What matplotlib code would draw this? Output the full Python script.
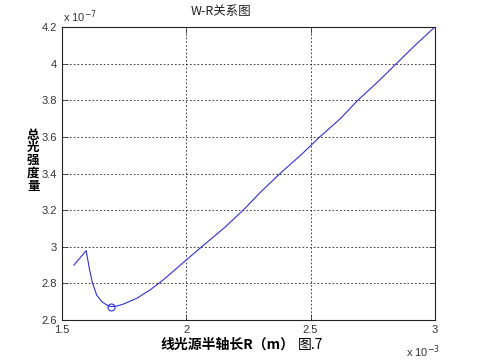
import matplotlib
matplotlib.use("Agg")
import matplotlib.pyplot as plt
from matplotlib.ticker import ScalarFormatter, FixedLocator
import numpy as np

plt.rcParams['font.family'] = ['Liberation Sans', 'Noto Sans CJK SC', 'DejaVu Sans']

# Data (R in metres, W in arbitrary units)
R = [1.548e-3, 1.597e-3, 1.610e-3, 1.622e-3, 1.639e-3, 1.660e-3, 1.680e-3, 1.696e-3,
     1.720e-3, 1.747e-3, 1.800e-3, 1.854e-3, 1.907e-3, 1.955e-3, 2.000e-3, 2.062e-3,
     2.150e-3, 2.229e-3, 2.300e-3, 2.377e-3, 2.460e-3, 2.537e-3, 2.620e-3, 2.690e-3,
     2.770e-3, 2.845e-3, 2.920e-3, 3.000e-3]
W = [2.900e-7, 2.979e-7, 2.880e-7, 2.804e-7, 2.737e-7, 2.700e-7, 2.682e-7, 2.673e-7,
     2.676e-7, 2.687e-7, 2.718e-7, 2.764e-7, 2.819e-7, 2.875e-7, 2.928e-7, 3.000e-7,
     3.100e-7, 3.200e-7, 3.300e-7, 3.400e-7, 3.500e-7, 3.600e-7, 3.700e-7, 3.800e-7,
     3.900e-7, 4.000e-7, 4.100e-7, 4.200e-7]
xticks = [1.5e-3, 2.0e-3, 2.5e-3, 3.0e-3]
yticks = [2.6e-7, 2.8e-7, 3.0e-7, 3.2e-7, 3.4e-7, 3.6e-7, 3.8e-7, 4.0e-7, 4.2e-7]

title = 'W-R关系图'
ylabel_chars = '总光强度量'
xlabel = '线光源半轴长R（m）'
figlabel = '图.7'
x_offset = 'x 10$^{-3}$'
y_offset = 'x 10$^{-7}$'


class GFormatter(ScalarFormatter):
    def _set_format(self):
        self.format = '%g'


fig = plt.figure(figsize=(4.81, 3.61), dpi=100)
ax = fig.add_axes([0.129, 0.1136, 0.775, 0.8114])

ax.plot(R, W, color='#3030d8', linewidth=0.8)
imin = int(np.argmin(W))
ax.plot([R[imin]], [W[imin]], marker='o', markersize=5, markerfacecolor='none',
        markeredgecolor='#3030d8', markeredgewidth=0.8, linestyle='none')

ax.set_xlim(xticks[0], xticks[-1])
ax.set_ylim(yticks[0], yticks[-1])
ax.xaxis.set_major_locator(FixedLocator(xticks))
ax.yaxis.set_major_locator(FixedLocator(yticks))
for axis in (ax.xaxis, ax.yaxis):
    f = GFormatter(useMathText=True)
    f.set_powerlimits((0, 0))
    axis.set_major_formatter(f)
ax.xaxis.get_offset_text().set_visible(False)
ax.yaxis.get_offset_text().set_visible(False)

ax.tick_params(direction='in', top=True, right=True, labelsize=8, length=4,
               width=0.6, colors='#333333')
ax.grid(True, linestyle=(0, (2, 2.5)), color='#222222', linewidth=0.6)
for s in ax.spines.values():
    s.set_linewidth(0.8)
    s.set_color('#222222')

fig.text(0.131, 0.955, y_offset, ha='left', va='center', fontsize=8, color='#333333')
fig.text(0.845, 0.025, x_offset, ha='left', va='center', fontsize=8, color='#333333')

fig.text(0.46, 0.968, title, ha='center', va='center', fontsize=9,
         family=['Noto Sans CJK SC', 'DejaVu Sans'], color='#222222')
fig.text(0.069, 0.555, '\n'.join(ylabel_chars), ha='center', va='center',
         fontsize=9, fontweight='bold', linespacing=0.98,
         family=['Noto Sans CJK SC', 'DejaVu Sans'])
fig.text(0.472, 0.045, xlabel, ha='center', va='center', fontsize=10,
         fontweight='bold', family=['Noto Sans CJK SC', 'DejaVu Sans'])
fig.text(0.646, 0.045, figlabel, ha='center', va='center', fontsize=10,
         family=['Noto Sans CJK SC', 'DejaVu Sans'])

fig.savefig('out.png', dpi=100)
